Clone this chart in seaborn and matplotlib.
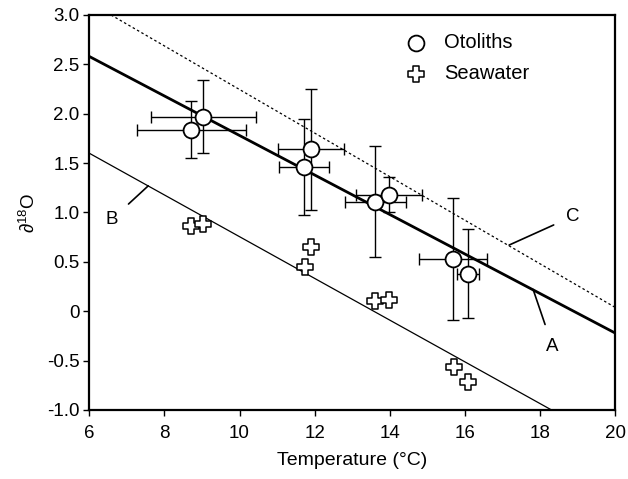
import numpy as np
import pandas as pd
import matplotlib
matplotlib.use("Agg")
import matplotlib.pyplot as plt
import seaborn as sns

# Otolitos: temperatura, d18O y barras de error
oto_temp = [8.72, 9.03, 11.91, 11.71, 13.62, 13.98, 15.68, 16.08]
oto_d18o = [1.84, 1.97, 1.64, 1.46, 1.11, 1.18, 0.53, 0.38]
oto_xerr = [1.44, 1.40, 0.88, 0.67, 0.81, 0.87, 0.90, 0.30]
oto_yerr = [0.29, 0.37, 0.61, 0.49, 0.56, 0.18, 0.62, 0.45]

# Agua de mar
sea_temp = [8.70, 9.03, 11.91, 11.74, 13.62, 13.98, 15.70, 16.08]
sea_d18o = [0.86, 0.88, 0.65, 0.45, 0.10, 0.11, -0.56, -0.72]

# Rectas A, B, C (extremos)
linea_a_x = [6, 20]
linea_a_y = [2.58, -0.22]
linea_b_x = [6, 18.31]
linea_b_y = [1.60, -1.00]
linea_c_x = [6.58, 20]
linea_c_y = [3.00, 0.04]

x_ticks = [6, 8, 10, 12, 14, 16, 18, 20]
y_ticks = [3.0, 2.5, 2.0, 1.5, 1.0, 0.5, 0.0, -0.5, -1.0]
y_labels = ["3.0", "2.5", "2.0", "1.5", "1.0", "0.5", "0", "-0.5", "-1.0"]

sns.set_style("ticks")
plt.rcParams['font.family'] = ['Liberation Sans', 'DejaVu Sans']
plt.rcParams['mathtext.fontset'] = 'custom'
plt.rcParams['mathtext.rm'] = 'Liberation Sans'
plt.rcParams['text.color'] = 'black'
plt.rcParams['axes.labelcolor'] = 'black'

fig = plt.figure(figsize=(6.28, 4.79), dpi=100)
ax = fig.add_axes([0.1422, 0.1441, 0.8371, 0.8246])

df_oto = pd.DataFrame({'Temp': oto_temp, 'd18O': oto_d18o})
df_sea = pd.DataFrame({'Temp': sea_temp, 'd18O': sea_d18o})

# rectas
sns.lineplot(x=linea_a_x, y=linea_a_y, ax=ax, color='black', linewidth=2.0)
sns.lineplot(x=linea_b_x, y=linea_b_y, ax=ax, color='black', linewidth=0.9)
sns.lineplot(x=linea_c_x, y=linea_c_y, ax=ax, color='black', linewidth=0.9,
             linestyle=(0, (2, 2)))

# barras de error
ax.errorbar(oto_temp, oto_d18o, xerr=oto_xerr, yerr=oto_yerr, fmt='none',
            ecolor='black', elinewidth=1.0, capsize=4, capthick=1.0, zorder=3)

sns.scatterplot(data=df_oto, x='Temp', y='d18O', ax=ax, marker='o', s=130,
                facecolor='white', edgecolor='black', linewidth=1.3,
                label='Otoliths', zorder=4)
sns.scatterplot(data=df_sea, x='Temp', y='d18O', ax=ax, marker='P', s=120,
                facecolor='white', edgecolor='black', linewidth=1.1,
                label='Seawater', zorder=4)

ax.set_xlim(6, 20)
ax.set_ylim(-1.0, 3.0)
ax.set_xticks(x_ticks)
ax.set_xticklabels([str(t) for t in x_ticks])
ax.set_yticks(y_ticks)
ax.set_yticklabels(y_labels)
ax.tick_params(direction='out', length=4, width=1, labelsize=13.5, colors='black')
ax.tick_params(axis='x', pad=7)
ax.tick_params(axis='y', pad=3)
for s in ax.spines.values():
    s.set_linewidth(1.6)
    s.set_color('black')

ax.set_xlabel('Temperature (°C)', fontsize=14, labelpad=7)
ax.set_ylabel('∂$^{18}$O', fontsize=13.5, labelpad=6)

# etiquetas de las rectas
ax.annotate('B', xy=(7.57, 1.27), xytext=(6.6, 0.93), fontsize=13.5,
            ha='center', va='center',
            arrowprops=dict(arrowstyle='-', color='black', lw=1.2, shrinkA=7, shrinkB=0))
ax.annotate('A', xy=(17.82, 0.22), xytext=(18.34, -0.36), fontsize=13.5,
            ha='center', va='center',
            arrowprops=dict(arrowstyle='-', color='black', lw=1.2, shrinkA=8, shrinkB=0))
ax.annotate('C', xy=(17.18, 0.67), xytext=(18.87, 0.96), fontsize=13.5,
            ha='center', va='center',
            arrowprops=dict(arrowstyle='-', color='black', lw=1.2, shrinkA=7, shrinkB=0))

leg = ax.legend(loc='upper left', bbox_to_anchor=(0.568, 1.0), frameon=False,
                fontsize=14.5, handletextpad=0.9, labelspacing=0.6,
                handlelength=1.0, markerscale=1.0)

fig.savefig('out.png', dpi=100)
